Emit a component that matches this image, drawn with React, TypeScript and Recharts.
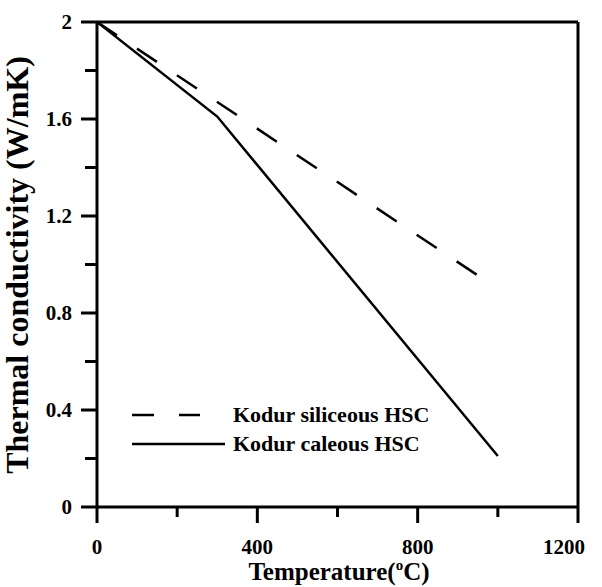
import React from 'react';
import { LineChart, Line, XAxis, YAxis, ReferenceLine, Legend } from 'recharts';

const siliceousTemps = [0, 950];
const siliceousK = [2.0, 0.955];
const calcareousTemps = [0, 300, 1000];
const calcareousK = [2.0, 1.61, 0.21];

const xTicks = [0, 200, 400, 600, 800, 1000, 1200];
const xTickLabels = ['0', '', '400', '', '800', '', '1200'];
const yTicks = [0, 0.2, 0.4, 0.6, 0.8, 1.0, 1.2, 1.4, 1.6, 1.8, 2.0];
const yTickLabels = ['0', '', '0.4', '', '0.8', '', '1.2', '', '1.6', '', '2'];

const seriesNames = ['Kodur siliceous HSC', 'Kodur caleous HSC'];

const siliceousData = siliceousTemps.map((t, i) => ({ t, k: siliceousK[i] }));
const calcareousData = calcareousTemps.map((t, i) => ({ t, k: calcareousK[i] }));

const FONT = '"Liberation Serif", "Times New Roman", serif';

const XTick = (props: any) => {
  const { x, y, payload } = props;
  const idx = xTicks.indexOf(payload.value);
  const label = xTickLabels[idx] || '';
  const major = label !== '';
  const last = idx === xTicks.length - 1;
  return (
    <g>
      <line x1={x} y1={y} x2={x} y2={y + (major ? 16 : 10)} stroke="#000" strokeWidth={3} />
      {major && (
        <text
          x={last ? x + 7 : x}
          y={y + 47}
          textAnchor={last ? 'end' : 'middle'}
          fontFamily={FONT}
          fontWeight="bold"
          fontSize={21}
          fill="#000"
        >
          {label}
        </text>
      )}
    </g>
  );
};

const YTick = (props: any) => {
  const { x, y, payload } = props;
  let idx = -1;
  yTicks.forEach((v, i) => {
    if (Math.abs(v - payload.value) < 1e-6) idx = i;
  });
  const label = idx >= 0 ? yTickLabels[idx] : '';
  const major = label !== '';
  return (
    <g>
      <line x1={x} y1={y} x2={x - (major ? 16 : 12)} y2={y} stroke="#000" strokeWidth={3} />
      {major && (
        <text x={x - 25} y={y + 7} textAnchor="end" fontFamily={FONT} fontWeight="bold" fontSize={21} fill="#000">
          {label}
        </text>
      )}
    </g>
  );
};

const LegendContent = () => (
  <svg width={360} height={60} style={{ display: 'block' }}>
    <line x1={7} y1={15} x2={75} y2={15} stroke="#000" strokeWidth={2.5} strokeDasharray="22 25" />
    <text x={108} y={22} fontFamily={FONT} fontWeight="bold" fontSize={22} fill="#000">
      {seriesNames[0]}
    </text>
    <line x1={7} y1={44} x2={100} y2={44} stroke="#000" strokeWidth={2.5} />
    <text x={108} y={51} fontFamily={FONT} fontWeight="bold" fontSize={22} fill="#000">
      {seriesNames[1]}
    </text>
  </svg>
);

const YTitle = () => (
  <text
    x={28}
    y={265}
    transform="rotate(-90, 28, 265)"
    textAnchor="middle"
    fontFamily={FONT}
    fontWeight="bold"
    fontSize={32}
    fill="#000"
  >
    Thermal conductivity (W/mK)
  </text>
);

const XTitle = () => (
  <text x={339} y={580} textAnchor="middle" fontFamily={FONT} fontWeight="bold" fontSize={25} fill="#000">
    Temperature(
    <tspan fontSize={15} dy={-10}>o</tspan>
    <tspan dy={10}>C)</tspan>
  </text>
);

export default function App() {
  return (
    <div style={{ position: 'absolute', left: 0, top: 0, width: 602, height: 587, background: '#fff' }}>
      <LineChart
        width={602}
        height={587}
        margin={{ top: 22, right: 24, bottom: 0, left: 0 }}
        style={{ fontFamily: FONT }}
      >
        <XAxis
          dataKey="t"
          type="number"
          domain={[0, 1200]}
          ticks={xTicks}
          interval={0}
          height={80}
          tickSize={0}
          tickMargin={0}
          tickLine={false}
          axisLine={{ stroke: '#000', strokeWidth: 3 }}
          tick={<XTick />}
          allowDataOverflow
          label={{ content: () => <XTitle /> }}
        />
        <YAxis
          dataKey="k"
          type="number"
          domain={[0, 2]}
          ticks={yTicks}
          interval={0}
          width={97}
          tickSize={0}
          tickMargin={0}
          tickLine={false}
          axisLine={{ stroke: '#000', strokeWidth: 3 }}
          tick={<YTick />}
          allowDataOverflow
          label={{ content: () => <YTitle /> }}
        />
        <ReferenceLine y={2} stroke="#000" strokeWidth={3} />
        <ReferenceLine x={1200} stroke="#000" strokeWidth={3} />
        <Line
          data={siliceousData}
          dataKey="k"
          name={seriesNames[0]}
          type="linear"
          stroke="#000"
          strokeWidth={2.5}
          strokeDasharray="24 24"
          dot={false}
          activeDot={false}
          isAnimationActive={false}
        />
        <Line
          data={calcareousData}
          dataKey="k"
          name={seriesNames[1]}
          type="linear"
          stroke="#000"
          strokeWidth={2.5}
          dot={false}
          activeDot={false}
          isAnimationActive={false}
        />
        <Legend
          layout="horizontal"
          align="center"
          verticalAlign="middle"
          wrapperStyle={{ position: 'absolute', left: 125, top: 400, width: 360, height: 60 }}
          content={() => <LegendContent />}
        />
      </LineChart>
    </div>
  );
}
